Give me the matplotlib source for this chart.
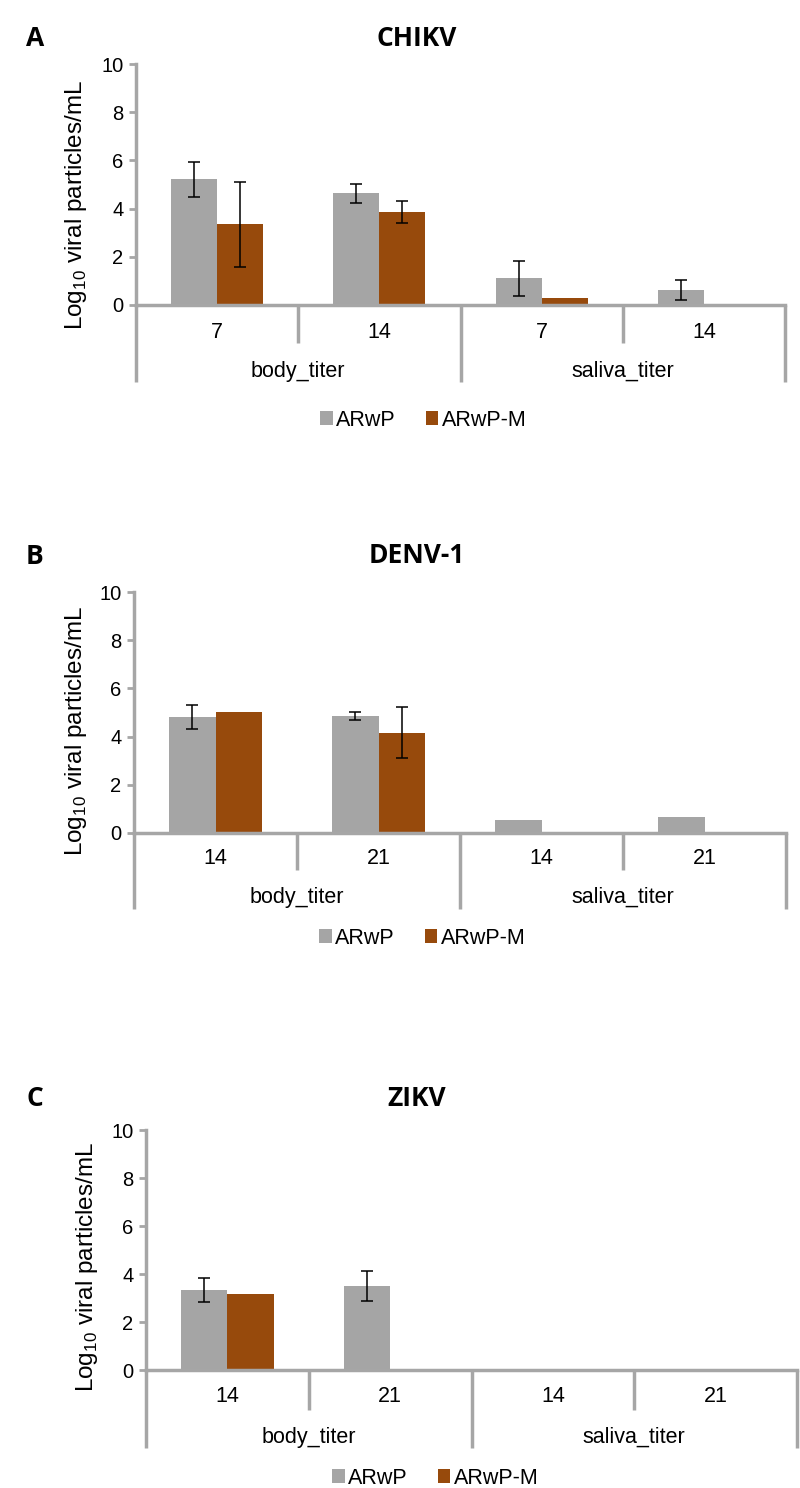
import matplotlib
matplotlib.use("Agg")
import matplotlib.pyplot as plt
from matplotlib.patches import Patch
from matplotlib import transforms
import numpy as np

plt.rcParams['font.family'] = ['Liberation Sans', 'DejaVu Sans']
plt.rcParams['mathtext.fontset'] = 'custom'
plt.rcParams['mathtext.rm'] = 'Liberation Sans'

# ---------------- data ----------------
groups = ['body_titer', 'saliva_titer']
series_names = ['ARwP', 'ARwP-M']

chikv_days = ['7', '14', '7', '14']
chikv_arwp = [5.21, 4.63, 1.10, 0.62]
chikv_arwp_err = [0.72, 0.39, 0.73, 0.43]
chikv_arwpm = [3.35, 3.86, 0.28, 0.0]
chikv_arwpm_err = [1.76, 0.44, 0.0, 0.0]

denv_days = ['14', '21', '14', '21']
denv_arwp = [4.80, 4.86, 0.55, 0.67]
denv_arwp_err = [0.50, 0.17, 0.0, 0.0]
denv_arwpm = [5.04, 4.17, 0.05, 0.0]
denv_arwpm_err = [0.0, 1.05, 0.0, 0.0]

zikv_days = ['14', '21', '14', '21']
zikv_arwp = [3.32, 3.50, 0.0, 0.0]
zikv_arwp_err = [0.50, 0.62, 0.0, 0.0]
zikv_arwpm = [3.15, 0.0, 0.0, 0.0]
zikv_arwpm_err = [0.0, 0.0, 0.0, 0.0]

titles = ['CHIKV', 'DENV-1', 'ZIKV']
letters = ['A', 'B', 'C']

GRAY = '#A5A5A5'
ORANGE = '#974A0C'
AXC = '#A6A6A6'

W, H = 800, 1488
fig = plt.figure(figsize=(W / 100, H / 100), dpi=100)

# panel layout in pixels: left, right, top(y=10), bottom(y=0), title y, legend center x, legend y,
# short divider, long divider, day label offset, group label offset, ylabel x, ylabel center y
panels = [
    dict(l=136, r=785, t=64, b=305, ty=38, lx=423, ly=420, sd=38, ld=77, dl=28, gl=66, yx=76, yc=205,
         days=chikv_days, a=chikv_arwp, ae=chikv_arwp_err, m=chikv_arwpm, me=chikv_arwpm_err),
    dict(l=134, r=786, t=592, b=833, ty=555, lx=422, ly=938, sd=37, ld=76, dl=25, gl=64, yx=76, yc=731,
         days=denv_days, a=denv_arwp, ae=denv_arwp_err, m=denv_arwpm, me=denv_arwpm_err),
    dict(l=146, r=797, t=1130, b=1370, ty=1098, lx=435, ly=1478, sd=40, ld=78, dl=27, gl=67, yx=87, yc=1267,
         days=zikv_days, a=zikv_arwp, ae=zikv_arwp_err, m=zikv_arwpm, me=zikv_arwpm_err),
]

bw = 0.284
for i, p in enumerate(panels):
    ax = fig.add_axes([p['l'] / W, 1 - p['b'] / H, (p['r'] - p['l']) / W, (p['b'] - p['t']) / H])
    hpx = p['b'] - p['t']
    x = np.arange(4) + 0.5
    ax.bar(x - bw / 2, p['a'], bw, color=GRAY, zorder=2)
    ax.bar(x + bw / 2, p['m'], bw, color=ORANGE, zorder=2)
    for xs, vals, errs in [(x - bw / 2, p['a'], p['ae']), (x + bw / 2, p['m'], p['me'])]:
        for xi, v, e in zip(xs, vals, errs):
            if e > 0:
                ax.errorbar(xi, v, yerr=e, color='black', lw=1.1, capsize=4, capthick=1.1, zorder=3)
    ax.set_xlim(0, 4)
    ax.set_ylim(0, 10)
    ax.set_yticks([0, 2, 4, 6, 8, 10])
    ax.tick_params(axis='y', direction='out', length=5, width=2, color=AXC, labelsize=14.5, pad=4)
    ax.set_xticks([])
    for s in ['top', 'right']:
        ax.spines[s].set_visible(False)
    for s in ['left', 'bottom']:
        ax.spines[s].set_color(AXC)
        ax.spines[s].set_linewidth(2.5)
        ax.spines[s].set_zorder(4)

    tr = transforms.blended_transform_factory(ax.transData, ax.transAxes)
    for xv in [0, 1, 2, 3, 4]:
        L = p['ld'] if xv % 2 == 0 else p['sd']
        ax.plot([xv, xv], [0, -L / hpx], color=AXC, lw=2.5, transform=tr, clip_on=False,
                solid_capstyle='butt')
    for xi, d in zip(x, p['days']):
        ax.text(xi, -p['dl'] / hpx, d, transform=tr, ha='center', va='center', fontsize=15.5)
    for gi, g in enumerate(groups):
        ax.text(1 + 2 * gi, -p['gl'] / hpx, g, transform=tr, ha='center', va='center', fontsize=15.5)

    fig.text(p['yx'] / W, 1 - p['yc'] / H, r'Log$_{10}$ viral particles/mL', rotation=90,
             ha='center', va='center', fontsize=17.5)
    fig.text(417 / W, 1 - p['ty'] / H, titles[i], ha='center', va='center', fontsize=19,
             fontweight='bold', family=['Open Sans', 'DejaVu Sans'])
    fig.text(35 / W, 1 - (p['ty'] + 1) / H, letters[i], ha='center', va='center', fontsize=19,
             fontweight='bold', family=['Open Sans', 'DejaVu Sans'])

    handles = [Patch(facecolor=GRAY, edgecolor='none'), Patch(facecolor=ORANGE, edgecolor='none')]
    fig.legend(handles, series_names, loc='center', bbox_to_anchor=(p['lx'] / W, 1 - p['ly'] / H),
               ncol=2, frameon=False, fontsize=15.5, handlelength=0.6, handleheight=0.6,
               handletextpad=0.15, columnspacing=1.4, borderpad=0)

fig.savefig('out.png', dpi=100)
